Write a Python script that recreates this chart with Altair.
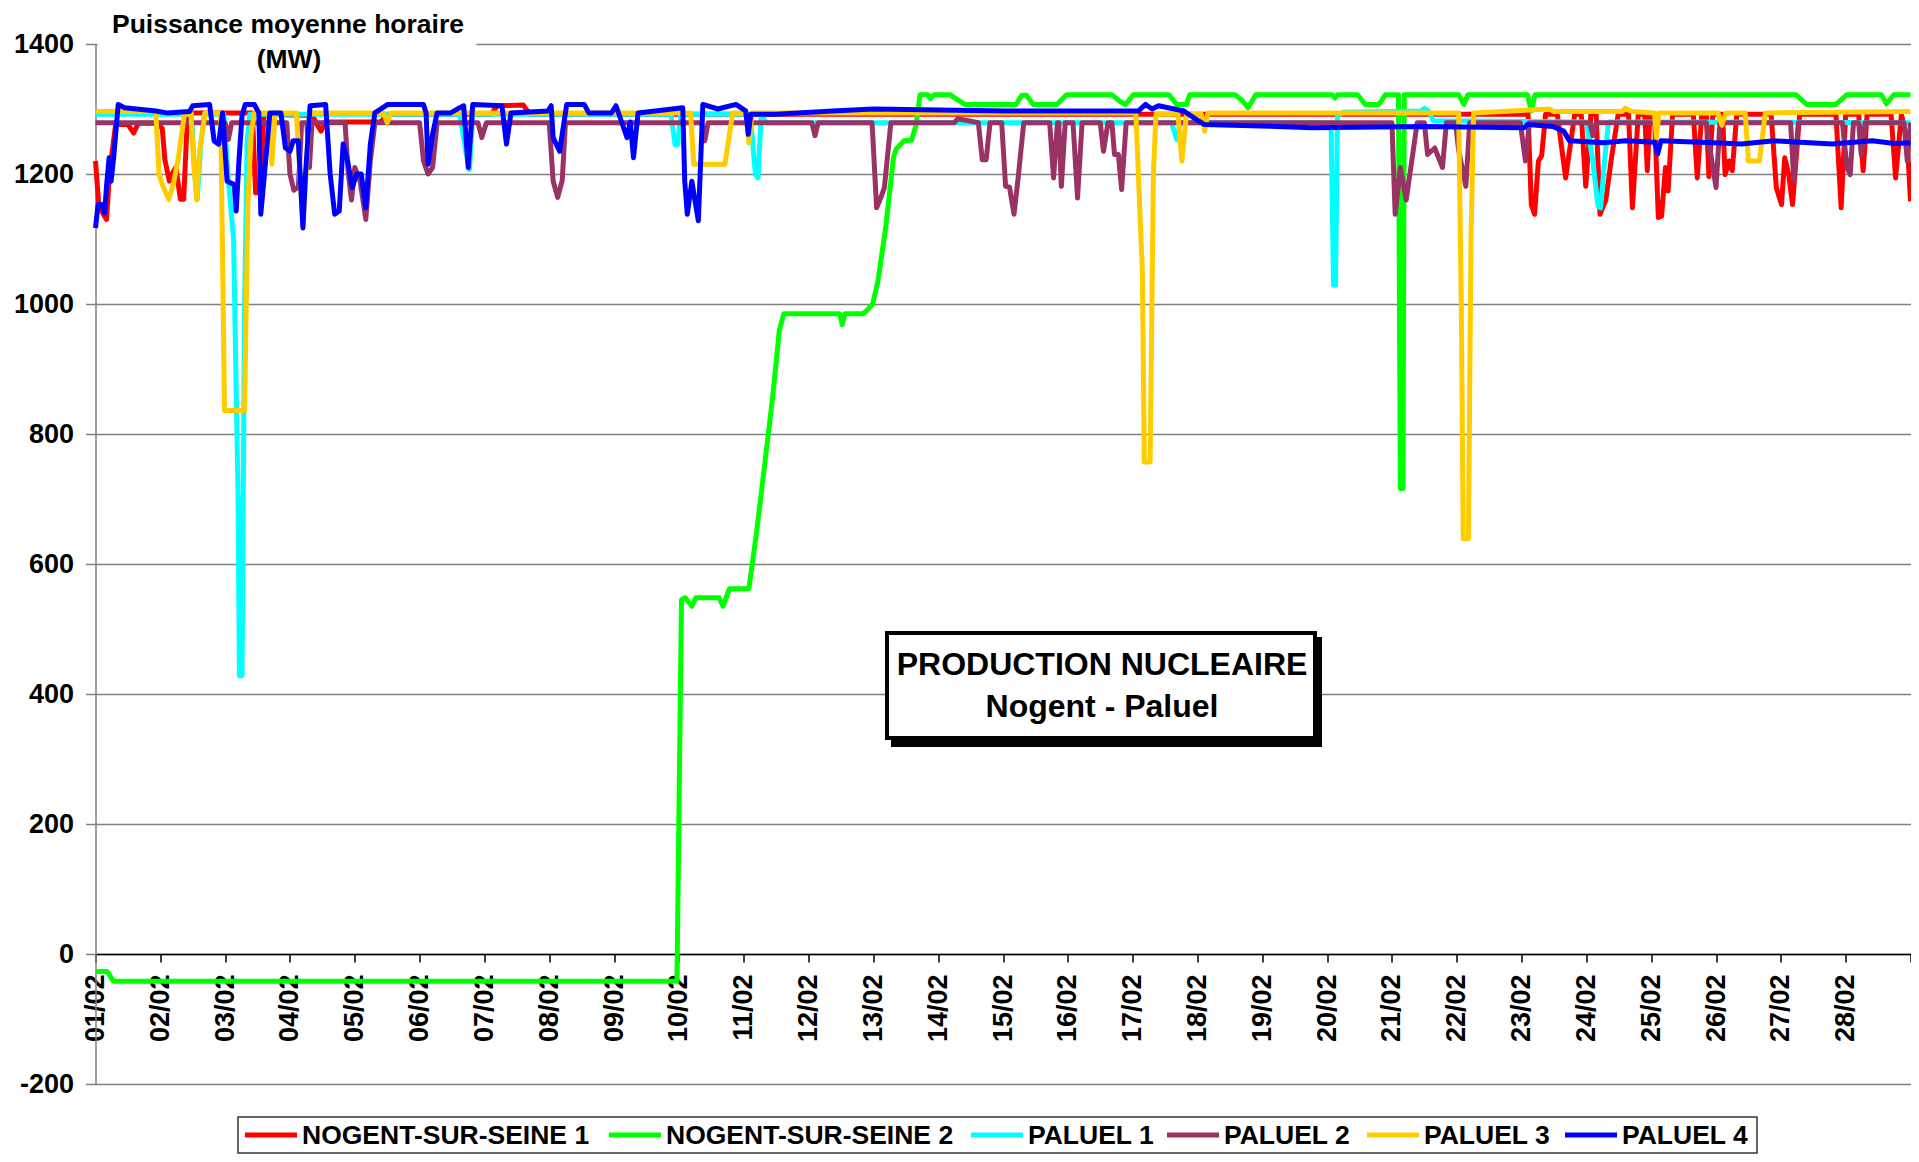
import altair as alt
import pandas as pd

SERIES = ["NOGENT-SUR-SEINE 1", "NOGENT-SUR-SEINE 2", "PALUEL 1", "PALUEL 2", "PALUEL 3", "PALUEL 4"]
COLORS = ["#FF0000", "#00FF00", "#00FFFF", "#993366", "#FFCC00", "#0000FF"]
DAY_LABELS = ["%02d/02" % d for d in range(1, 29)]
Y_TICKS = [-200, 0, 200, 400, 600, 800, 1000, 1200, 1400]
TITLE_LINES = ["Puissance moyenne horaire", "(MW)"]
BOX_LINES = ["PRODUCTION NUCLEAIRE", "Nogent - Paluel"]

# (day since 01/02 00h, MW)
nogent1 = [(0, 1220), (0.05, 1153), (0.12, 1138), (0.17, 1130), (0.22, 1205), (0.31, 1276), (0.5, 1276),
           (0.59, 1263), (0.66, 1278), (0.95, 1278), (1.03, 1270), (1.07, 1222), (1.14, 1189), (1.18, 1200),
           (1.24, 1210), (1.31, 1161), (1.36, 1161), (1.41, 1270), (1.45, 1294), (2.42, 1294), (2.47, 1171),
           (2.53, 1171), (2.6, 1292), (3.35, 1290), (3.4, 1279), (3.48, 1266), (3.55, 1280), (4.4, 1280),
           (4.5, 1292), (6.1, 1292), (6.2, 1305), (6.6, 1306), (6.7, 1292), (22.1, 1292), (22.15, 1153),
           (22.2, 1138), (22.26, 1220), (22.31, 1228), (22.37, 1292), (22.55, 1292), (22.68, 1194),
           (22.82, 1292), (22.92, 1292), (22.99, 1181), (23.07, 1292), (23.15, 1292), (23.21, 1138),
           (23.3, 1160), (23.38, 1220), (23.49, 1292), (23.65, 1292), (23.71, 1148), (23.8, 1292),
           (23.9, 1292), (23.94, 1205), (23.98, 1292), (24.05, 1292), (24.11, 1133), (24.16, 1135),
           (24.22, 1210), (24.26, 1174), (24.33, 1292), (24.65, 1292), (24.71, 1194), (24.78, 1292),
           (24.85, 1292), (24.89, 1196), (24.95, 1292), (25.1, 1292), (25.14, 1199), (25.2, 1220),
           (25.25, 1205), (25.32, 1292), (25.85, 1292), (25.93, 1179), (26.01, 1153), (26.06, 1225),
           (26.12, 1200), (26.18, 1153), (26.29, 1292), (26.85, 1292), (26.93, 1148), (27.0, 1292),
           (27.2, 1292), (27.27, 1205), (27.33, 1292), (27.7, 1292), (27.77, 1194), (27.86, 1292),
           (27.95, 1250), (28.0, 1158)]

nogent2 = [(0, -27), (0.18, -27), (0.28, -42), (8.97, -42), (9.04, 545), (9.1, 548), (9.2, 535), (9.26, 548),
           (9.62, 548), (9.68, 535), (9.78, 562), (10.08, 562), (10.2, 650), (10.32, 750), (10.45, 860),
           (10.55, 960), (10.62, 985), (11.48, 985), (11.52, 968), (11.56, 985), (11.84, 985), (11.9, 990),
           (11.99, 1000), (12.07, 1035), (12.19, 1117), (12.31, 1225), (12.35, 1238), (12.47, 1251),
           (12.59, 1252), (12.66, 1276), (12.72, 1322), (12.84, 1322), (12.88, 1316), (12.94, 1322),
           (13.18, 1322), (13.41, 1307), (14.2, 1307), (14.29, 1321), (14.36, 1321), (14.47, 1307),
           (14.83, 1307), (14.98, 1322), (15.68, 1322), (15.8, 1312), (15.89, 1307), (16.01, 1322),
           (16.56, 1322), (16.68, 1307), (16.83, 1307), (16.88, 1322), (17.58, 1322), (17.7, 1312),
           (17.78, 1302), (17.9, 1322), (19.08, 1322), (19.12, 1317), (19.16, 1322), (19.47, 1322),
           (19.59, 1307), (19.8, 1307), (19.9, 1322), (20.1, 1322), (20.13, 716), (20.17, 716),
           (20.19, 1322), (21.03, 1322), (21.11, 1307), (21.17, 1322), (22.09, 1322), (22.15, 1297),
           (22.21, 1322), (26.23, 1322), (26.4, 1307), (26.85, 1307), (27.02, 1322), (27.55, 1322),
           (27.63, 1308), (27.74, 1322), (28.0, 1322)]

paluel1 = [(0, 1292), (1.48, 1292), (1.53, 1200), (1.57, 1161), (1.62, 1240), (1.68, 1292), (1.98, 1292),
           (2.05, 1189), (2.13, 1100), (2.2, 700), (2.22, 428), (2.26, 428), (2.3, 1000), (2.34, 1250),
           (2.38, 1292), (5.62, 1292), (5.72, 1230), (5.77, 1207), (5.82, 1292), (8.88, 1292), (8.94, 1245),
           (8.98, 1245), (9.03, 1292), (10.1, 1292), (10.18, 1200), (10.22, 1194), (10.27, 1290),
           (10.35, 1279), (16.6, 1279), (16.68, 1253), (16.74, 1279), (19.06, 1279), (19.1, 1029),
           (19.13, 1029), (19.16, 1290), (19.25, 1295), (20.45, 1297), (20.5, 1301), (20.56, 1297),
           (20.64, 1282), (23.0, 1280), (23.1, 1220), (23.18, 1150), (23.22, 1148), (23.28, 1220),
           (23.34, 1280), (28.0, 1279)]

paluel2 = [(0, 1279), (2.0, 1279), (2.05, 1253), (2.1, 1279), (2.95, 1279), (3.0, 1200), (3.06, 1175),
           (3.13, 1180), (3.18, 1279), (3.26, 1279), (3.3, 1210), (3.34, 1279), (3.85, 1279), (3.9, 1200),
           (3.95, 1160), (4.0, 1210), (4.08, 1190), (4.17, 1130), (4.24, 1220), (4.31, 1279), (5.0, 1279),
           (5.06, 1220), (5.13, 1200), (5.2, 1210), (5.27, 1279), (5.9, 1279), (5.96, 1256), (6.03, 1279),
           (7.0, 1279), (7.06, 1189), (7.13, 1164), (7.2, 1190), (7.25, 1279), (9.35, 1279), (9.4, 1251),
           (9.45, 1279), (11.05, 1279), (11.1, 1259), (11.15, 1279), (11.98, 1279), (12.05, 1148),
           (12.12, 1165), (12.17, 1179), (12.27, 1279), (13.25, 1279), (13.3, 1285), (13.62, 1279),
           (13.68, 1222), (13.74, 1222), (13.8, 1279), (13.98, 1279), (14.04, 1181), (14.1, 1180),
           (14.17, 1138), (14.24, 1200), (14.32, 1279), (14.72, 1279), (14.78, 1194), (14.84, 1279),
           (14.86, 1279), (14.9, 1181), (14.96, 1279), (15.08, 1279), (15.15, 1163), (15.22, 1279),
           (15.5, 1279), (15.55, 1235), (15.62, 1279), (15.68, 1279), (15.72, 1230), (15.78, 1230),
           (15.83, 1176), (15.9, 1279), (20.0, 1279), (20.05, 1138), (20.13, 1210), (20.22, 1160),
           (20.39, 1279), (20.5, 1279), (20.55, 1230), (20.66, 1240), (20.78, 1210), (20.84, 1279),
           (20.98, 1279), (21.03, 1236), (21.14, 1181), (21.2, 1279), (21.98, 1279), (22.06, 1220),
           (22.12, 1279), (23.05, 1279), (23.1, 1259), (23.15, 1279), (24.85, 1279), (24.92, 1230),
           (25.0, 1179), (25.06, 1279), (26.15, 1279), (26.2, 1190), (26.27, 1279), (26.95, 1279),
           (27.02, 1210), (27.07, 1199), (27.12, 1279), (27.2, 1279), (27.24, 1230), (27.3, 1279),
           (27.9, 1279), (27.95, 1220), (28.0, 1279)]

paluel3 = [(0, 1296), (0.93, 1296), (0.98, 1200), (1.03, 1184), (1.13, 1161), (1.2, 1184), (1.27, 1220),
           (1.37, 1290), (1.47, 1296), (1.51, 1225), (1.56, 1160), (1.6, 1230), (1.69, 1294), (1.93, 1294),
           (1.97, 1000), (1.99, 836), (2.3, 836), (2.35, 1150), (2.4, 1260), (2.45, 1294), (2.68, 1294),
           (2.72, 1215), (2.77, 1294), (3.1, 1294), (3.2, 1117), (3.3, 1294), (4.44, 1294), (4.5, 1279),
           (4.56, 1294), (9.18, 1294), (9.23, 1215), (9.71, 1215), (9.83, 1294), (10.04, 1294),
           (10.08, 1248), (10.13, 1294), (16.05, 1294), (16.15, 1050), (16.18, 757), (16.27, 757),
           (16.32, 1200), (16.36, 1292), (16.7, 1292), (16.76, 1220), (16.83, 1292), (17.06, 1292),
           (17.11, 1266), (17.16, 1294), (21.03, 1294), (21.07, 1000), (21.1, 639), (21.18, 639),
           (21.22, 1100), (21.26, 1294), (22.43, 1300), (22.5, 1296), (23.55, 1296), (23.6, 1301),
           (23.7, 1296), (24.05, 1294), (24.08, 1256), (24.12, 1294), (25.03, 1294), (25.09, 1275),
           (25.15, 1294), (25.45, 1294), (25.5, 1220), (25.67, 1220), (25.76, 1294), (28.0, 1296)]

paluel4 = [(0, 1117), (0.04, 1153), (0.1, 1153), (0.14, 1140), (0.17, 1181), (0.21, 1225), (0.24, 1189),
           (0.28, 1225), (0.35, 1307), (0.45, 1302), (0.93, 1297), (1.1, 1294), (1.45, 1296), (1.5, 1305),
           (1.76, 1307), (1.83, 1251), (1.9, 1246), (1.96, 1294), (2.03, 1189), (2.14, 1184), (2.17, 1143),
           (2.21, 1215), (2.26, 1290), (2.31, 1307), (2.45, 1307), (2.52, 1294), (2.55, 1138), (2.62, 1215),
           (2.69, 1294), (2.86, 1294), (2.93, 1240), (3.0, 1235), (3.05, 1251), (3.13, 1251), (3.2, 1117),
           (3.24, 1200), (3.31, 1305), (3.55, 1307), (3.62, 1200), (3.69, 1138), (3.76, 1143), (3.82, 1246),
           (3.89, 1220), (3.96, 1179), (4.03, 1200), (4.1, 1200), (4.17, 1148), (4.24, 1246), (4.31, 1294),
           (4.51, 1307), (5.06, 1307), (5.1, 1294), (5.13, 1215), (5.2, 1261), (5.27, 1294), (5.48, 1294),
           (5.62, 1302), (5.68, 1305), (5.75, 1210), (5.82, 1307), (6.27, 1305), (6.34, 1246), (6.41, 1294),
           (6.98, 1297), (7.03, 1305), (7.06, 1256), (7.16, 1235), (7.27, 1307), (7.54, 1307), (7.61, 1294),
           (7.96, 1294), (8.03, 1305), (8.2, 1256), (8.25, 1280), (8.3, 1225), (8.37, 1294), (9.06, 1302),
           (9.09, 1189), (9.13, 1138), (9.2, 1189), (9.3, 1128), (9.37, 1307), (9.6, 1300), (9.88, 1307),
           (10.03, 1297), (10.07, 1261), (10.11, 1292), (10.5, 1292), (11.37, 1297), (12.0, 1300),
           (14.04, 1297), (16.09, 1297), (16.2, 1307), (16.3, 1300), (16.4, 1305), (16.79, 1297),
           (16.95, 1286), (17.11, 1276), (17.97, 1274), (18.76, 1271), (20.5, 1273), (22.04, 1271),
           (22.09, 1276), (22.48, 1273), (22.65, 1266), (22.74, 1251), (23.27, 1248), (23.6, 1251),
           (24.05, 1249), (24.1, 1231), (24.15, 1251), (24.95, 1248), (25.39, 1246), (25.9, 1251),
           (26.79, 1246), (27.41, 1251), (27.75, 1247), (28.0, 1248)]

ALL = [nogent1, nogent2, paluel1, paluel2, paluel3, paluel4]

# layout (pixels, relative to the plot area's top-left corner)
FONT = "Liberation Sans"
W, H = 1815, 1040
LEGEND_BOX = (142.5, 1661.5, 1073, 1109)
LEGEND_SYMBOL_X = [149.5, 513.5, 875.5, 1071.5, 1271.5, 1469.5]
LEGEND_SYMBOL_LEN = 52
LEGEND_LABEL_GAP = 5
LEGEND_Y = 1091

label_list = "[" + ",".join("'%s'" % s for s in DAY_LABELS) + "]"

x_enc = alt.X("t:Q", scale=alt.Scale(domain=[0, 28], nice=False, zero=False),
              axis=alt.Axis(values=list(range(29)),
                            labelExpr=label_list + "[datum.value] || ''",
                            labelAngle=270, labelFont=FONT, labelFontSize=27, labelFontWeight="bold",
                            labelColor="black", labelPadding=12, tickSize=8, tickColor="black",
                            tickWidth=1.5, domainColor="black", domainWidth=1.5, offset=-130,
                            grid=False, title=None, labelOverlap=False, labelFlush=False,
                            labelBound=False))
y_enc = alt.Y("v:Q", scale=alt.Scale(domain=[-200, 1400], nice=False, zero=False),
              axis=alt.Axis(values=Y_TICKS, labelExpr="'' + datum.value",
                            labelFont=FONT, labelFontSize=27, labelFontWeight="bold",
                            labelColor="black", labelPadding=12, tickSize=10, tickColor="#808080",
                            tickWidth=1.5, domainColor="#808080", domainWidth=1.5,
                            grid=True, gridColor="#808080", gridWidth=1.5, title=None,
                            labelOverlap=False, labelFlush=False))
color_enc = alt.Color("series:N", scale=alt.Scale(domain=SERIES, range=COLORS), legend=None)

layers = []
for name, pts in zip(SERIES, ALL):
    df = pd.DataFrame({"t": [p[0] for p in pts], "v": [p[1] for p in pts], "series": name})
    layers.append(alt.Chart(df).mark_line(strokeWidth=5, strokeJoin="round")
                  .encode(x=x_enc, y=y_enc, color=color_enc))

one = pd.DataFrame({"a": [0]})


def text_layer(txt, x, y, size):
    return alt.Chart(one).mark_text(text=txt, font=FONT, fontSize=size, fontWeight="bold",
                                    align="center", baseline="middle", color="black").encode(
        x=alt.value(x), y=alt.value(y))


title_bg = alt.Chart(one).mark_rect(fill="white").encode(
    x=alt.value(2), x2=alt.value(381), y=alt.value(-36), y2=alt.value(32))
title1 = text_layer(TITLE_LINES[0], 192.5, -19, 26.5)
title2 = text_layer(TITLE_LINES[1], 193.5, 16, 26.5)

shadow = alt.Chart(one).mark_rect(fill="black").encode(
    x=alt.value(795.5), x2=alt.value(1226.5), y=alt.value(593), y2=alt.value(703))
box = alt.Chart(one).mark_rect(fill="white", stroke="black", strokeWidth=4).encode(
    x=alt.value(791.5), x2=alt.value(1219.5), y=alt.value(589), y2=alt.value(694))
box1 = text_layer(BOX_LINES[0], 1006.5, 621, 32)
box2 = text_layer(BOX_LINES[1], 1006.5, 663, 32)

# legend drawn from SERIES / COLORS
legend_layers = [alt.Chart(one).mark_rect(fill="white", stroke="#333333", strokeWidth=1.5).encode(
    x=alt.value(LEGEND_BOX[0]), x2=alt.value(LEGEND_BOX[1]),
    y=alt.value(LEGEND_BOX[2]), y2=alt.value(LEGEND_BOX[3]))]
for name, col, sx in zip(SERIES, COLORS, LEGEND_SYMBOL_X):
    legend_layers.append(alt.Chart(one).mark_rule(strokeWidth=5, color=col).encode(
        x=alt.value(sx), x2=alt.value(sx + LEGEND_SYMBOL_LEN), y=alt.value(LEGEND_Y)))
    legend_layers.append(alt.Chart(one).mark_text(text=name, font=FONT, fontSize=26.5, fontWeight="bold",
                                                  align="left", baseline="middle", color="black").encode(
        x=alt.value(sx + LEGEND_SYMBOL_LEN + LEGEND_LABEL_GAP), y=alt.value(LEGEND_Y + 1)))

chart = alt.layer(*layers, title_bg, title1, title2, shadow, box, box1, box2, *legend_layers).properties(
    width=W, height=H,
    autosize=alt.AutoSizeParams(type="none"),
    padding={"left": 87.5, "top": 36, "right": 0, "bottom": 70},
).configure_view(stroke=None)

chart.save("out.html", embed_options={"renderer": "svg", "actions": False})
